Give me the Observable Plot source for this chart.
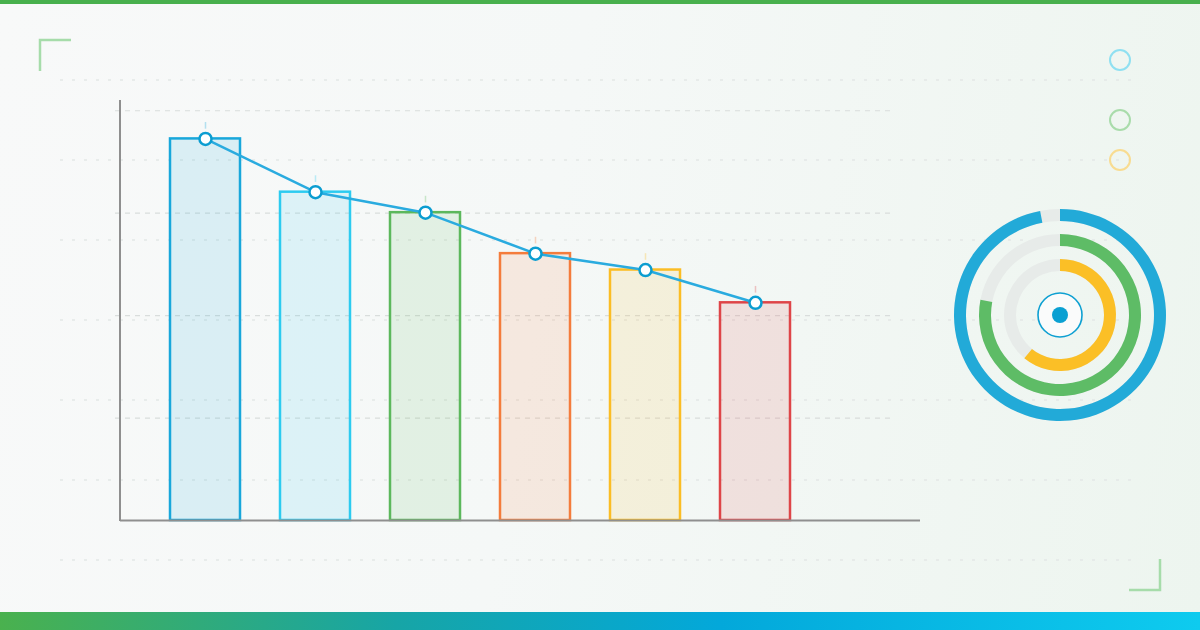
<!DOCTYPE html>
<html>
<head>
<meta charset="utf-8">
<script src="https://cdn.jsdelivr.net/npm/d3@7"></script>
<script src="https://cdn.jsdelivr.net/npm/@observablehq/plot@0.6"></script>
<style>
  html, body { margin: 0; padding: 0; }
  body { width: 1200px; height: 630px; overflow: hidden; font-family: "Noto Sans", sans-serif; }
  #stage { position: relative; width: 1200px; height: 630px;
    background: linear-gradient(100deg, #f8f9f9 0%, #f5f8f7 45%, #edf5ef 100%); }
  #topbar { position: absolute; left: 0; top: 0; width: 1200px; height: 4px; background: #48b04d; }
  #bottombar { position: absolute; left: 0; top: 612px; width: 1200px; height: 18px;
    background: linear-gradient(90deg, #4ab14e 0%, #17a5a6 33%, #03a8da 60%, #0ecbef 100%); }
  #deco, #chart, #front { position: absolute; left: 0; top: 0; }
</style>
</head>
<body>
<div id="stage">
  <svg id="deco" width="1200" height="630"></svg>
  <div id="chart"></div>
  <svg id="front" width="1200" height="630"></svg>
  <div id="topbar"></div>
  <div id="bottombar"></div>
</div>
<script>
// ---- data ----
const categories = ["A", "B", "C", "D", "E", "F"];
const values = [74.5, 64.1, 60.1, 52.1, 48.9, 42.5];
const barColors = ["#18a7db", "#2ccbf0", "#5cb85c", "#f47c3c", "#fbbd24", "#de4548"];
const gridTicks = [20, 40, 60, 80];
const yMax = 82;
const gaugeValues = [0.97, 0.78, 0.61];
const gaugeColors = ["#22aad8", "#5ebc66", "#fbbf26"];
const legendColors = ["#8fe0f1", "#a9dcab", "#f8dc91"];
const backgroundLines = [80, 160, 240, 320, 400, 480, 560];

const data = categories.map((c, i) => ({cat: c, value: values[i], color: barColors[i]}));

// ---- main chart ----
const chart = Plot.plot({
  width: 1200,
  height: 630,
  marginTop: 100,
  marginBottom: 110,
  marginLeft: 120,
  marginRight: 280,
  style: {background: "transparent", overflow: "visible"},
  x: {domain: categories, range: [150, 810], paddingInner: 4 / 11, paddingOuter: 2 / 11, axis: null},
  y: {domain: [0, yMax], axis: null},
  color: {type: "identity"},
  marks: [
    Plot.ruleY(gridTicks, {stroke: "#d9dddc", strokeWidth: 1.2, strokeDasharray: "5,5", insetLeft: -5, insetRight: 25}),
    Plot.barY(data, {x: "cat", y: "value", fill: "color", fillOpacity: 0.13, stroke: "color", strokeWidth: 2.5}),
    Plot.ruleX(data, {x: "cat", y1: d => d.value + 1.9, y2: d => d.value + 3.2, stroke: "color", strokeOpacity: 0.3, strokeWidth: 1.5}),
    Plot.ruleY([0], {stroke: "#8f8f8f", strokeWidth: 2}),
    Plot.line(data, {x: "cat", y: "value", stroke: "#2aabdf", strokeWidth: 2.5}),
    Plot.dot(data, {x: "cat", y: "value", r: 6, fill: "white", stroke: "#0b9dd1", strokeWidth: 2.5})
  ]
});
document.getElementById("chart").appendChild(chart);

const ys = chart.scale("y");
const deco = d3.select("#deco");

// background dotted lines
deco.selectAll("line.bg").data(backgroundLines).join("line")
  .attr("x1", 60).attr("x2", 1132)
  .attr("y1", d => d).attr("y2", d => d)
  .attr("stroke", "#e3e7e6").attr("stroke-width", 1.6).attr("stroke-dasharray", "3,9");

// corner brackets
deco.append("path").attr("d", "M40,71 V40 H71").attr("fill", "none")
  .attr("stroke", "#a6dcaa").attr("stroke-width", 2.5);
deco.append("path").attr("d", "M1160,559 V590 H1129").attr("fill", "none")
  .attr("stroke", "#a6dcaa").attr("stroke-width", 2.5);

// legend circles
const legendY = [60, 120, 160];
deco.selectAll("circle.leg").data(legendColors).join("circle")
  .attr("cx", 1120).attr("cy", (d, i) => legendY[i]).attr("r", 10)
  .attr("fill", "none").attr("stroke", d => d).attr("stroke-width", 2);

// gauge
const front = d3.select("#front");
const g = front.append("g").attr("transform", "translate(1060,315)");
const radii = [100, 75, 50];
const ringW = 12;
gaugeValues.forEach((v, i) => {
  const arc = d3.arc().innerRadius(radii[i] - ringW / 2).outerRadius(radii[i] + ringW / 2);
  g.append("path").attr("d", arc({startAngle: 0, endAngle: 2 * Math.PI})).attr("fill", "#e7ebe9");
  g.append("path").attr("d", arc({startAngle: 0, endAngle: 2 * Math.PI * v})).attr("fill", gaugeColors[i]);
});
g.append("circle").attr("r", 22).attr("fill", "#fafbfb").attr("stroke", "#0ea0d2").attr("stroke-width", 1.6);
g.append("circle").attr("r", 8).attr("fill", "#0aa0d2");

// y axis line
front.append("line").attr("x1", 120).attr("x2", 120)
  .attr("y1", ys.apply(yMax)).attr("y2", ys.apply(0) + 1)
  .attr("stroke", "#8f8f8f").attr("stroke-width", 2);
</script>
</body>
</html>
